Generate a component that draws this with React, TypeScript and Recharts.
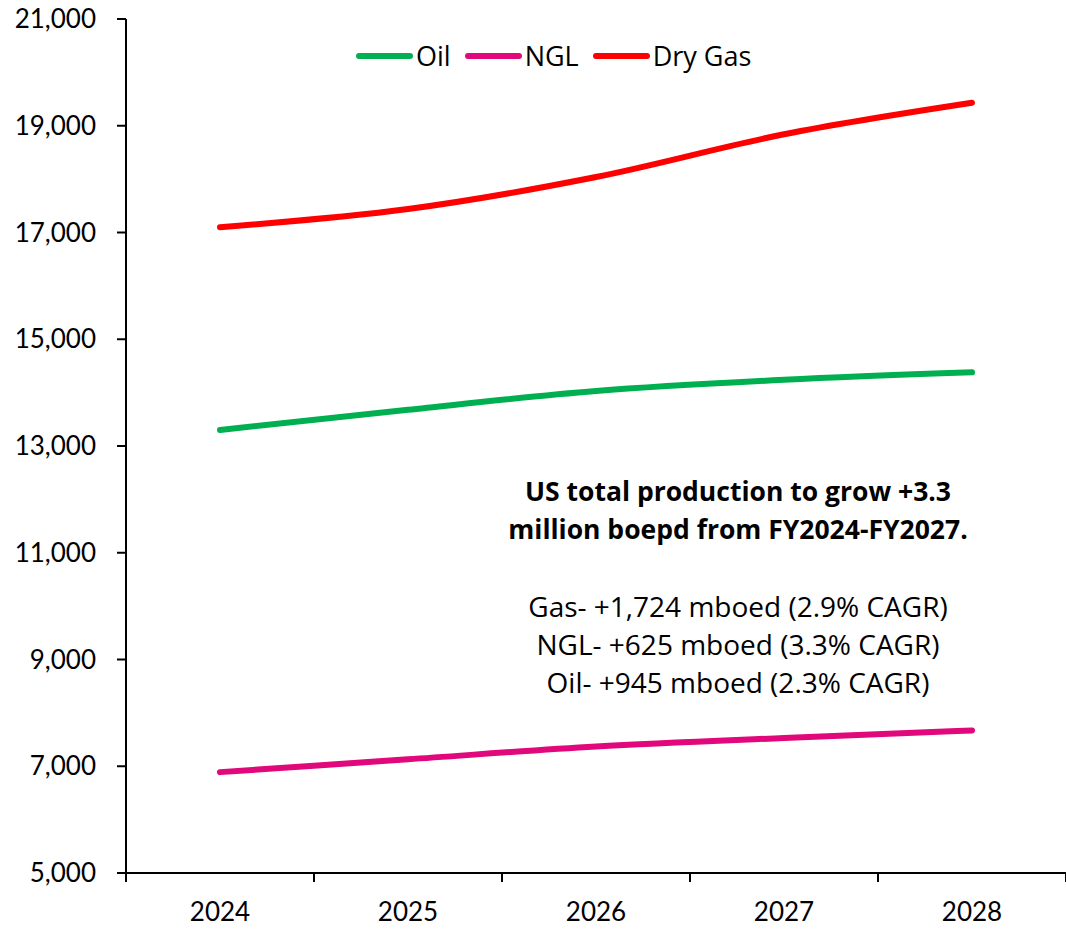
import React from "react";
import { LineChart, Line, XAxis, YAxis } from "recharts";

const years = ["2024", "2025", "2026", "2027", "2028"];
const oil = [13300, 13680, 14030, 14240, 14380];
const ngl = [6890, 7130, 7370, 7530, 7670];
const dryGas = [17100, 17440, 18040, 18840, 19430];
const yTicks = [5000, 7000, 9000, 11000, 13000, 15000, 17000, 19000, 21000];

const data = years.map((y, i) => ({
  year: y,
  oil: oil[i],
  ngl: ngl[i],
  dryGas: dryGas[i],
}));

const W = 1066;
const H = 930;
const AXIS_W = 126;
const HALF_BAND = (W - AXIS_W) / years.length / 2;
const FONT = "Lato, 'Open Sans', sans-serif";
const TEXT_FONT = "'Open Sans', Lato, sans-serif";

const series = [
  { key: "oil", name: "Oil", color: "#00B050" },
  { key: "ngl", name: "NGL", color: "#E0087A" },
  { key: "dryGas", name: "Dry Gas", color: "#FF0000" },
];

const XTick = (props: any) => {
  const { x, y, payload, index } = props;
  return (
    <g>
      <line x1={x - HALF_BAND} x2={x - HALF_BAND} y1={y} y2={y + 9} stroke="#000" strokeWidth={2} />
      {index === years.length - 1 && (
        <line x1={x + HALF_BAND} x2={x + HALF_BAND} y1={y} y2={y + 9} stroke="#000" strokeWidth={2} />
      )}
      <text x={x} y={y + 48} textAnchor="middle" fontSize={26} fill="#000" fontFamily={FONT}>
        {payload.value}
      </text>
    </g>
  );
};

export default function App() {
  return (
    <div style={{ position: "absolute", left: 0, top: 0, width: W, height: H, background: "#fff", fontFamily: FONT }}>
      <LineChart width={W} height={H} data={data} margin={{ top: 19, right: 0, bottom: 0, left: 0 }}>
        <XAxis
          dataKey="year"
          height={57}
          padding={{ left: HALF_BAND, right: HALF_BAND }}
          tickLine={false}
          tickSize={0}
          tickMargin={0}
          axisLine={{ stroke: "#000", strokeWidth: 2 }}
          tick={<XTick />}
          interval={0}
        />
        <YAxis
          width={AXIS_W}
          domain={[5000, 21000]}
          ticks={yTicks}
          interval={0}
          tickSize={9}
          tickMargin={21}
          tickFormatter={(v: number) => v.toLocaleString("en-US")}
          axisLine={{ stroke: "#000", strokeWidth: 2 }}
          tickLine={{ stroke: "#000", strokeWidth: 2 }}
          tick={{ fontSize: 26, fill: "#000", fontFamily: FONT }}
        />
        {series.map((s) => (
          <Line
            key={s.key}
            type="monotone"
            dataKey={s.key}
            name={s.name}
            stroke={s.color}
            strokeWidth={6}
            strokeLinecap="round"
            dot={false}
            activeDot={false}
            isAnimationActive={false}
          />
        ))}
      </LineChart>

      <div style={{ position: "absolute", top: 37, left: 356, display: "flex", alignItems: "center", fontSize: 27, fontFamily: TEXT_FONT }}>
        {series.map((s) => (
          <div key={s.key} style={{ display: "flex", alignItems: "center", marginRight: 14 }}>
            <div style={{ width: 57, height: 6, borderRadius: 3, background: s.color, marginRight: 3 }} />
            <span>{s.name}</span>
          </div>
        ))}
      </div>

      <div style={{ position: "absolute", top: 472, left: 478, width: 520, textAlign: "center", fontSize: 28, color: "#000", fontFamily: TEXT_FONT }}>
        <div style={{ fontWeight: 700, fontSize: 26.5, lineHeight: "38px" }}>
          US total production to grow +3.3
          <br />
          million boepd from FY2024-FY2027.
        </div>
        <div style={{ lineHeight: "38px", marginTop: 39 }}>
          Gas- +1,724 mboed (2.9% CAGR)
          <br />
          NGL- +625 mboed (3.3% CAGR)
          <br />
          Oil- +945 mboed (2.3% CAGR)
        </div>
      </div>
    </div>
  );
}
